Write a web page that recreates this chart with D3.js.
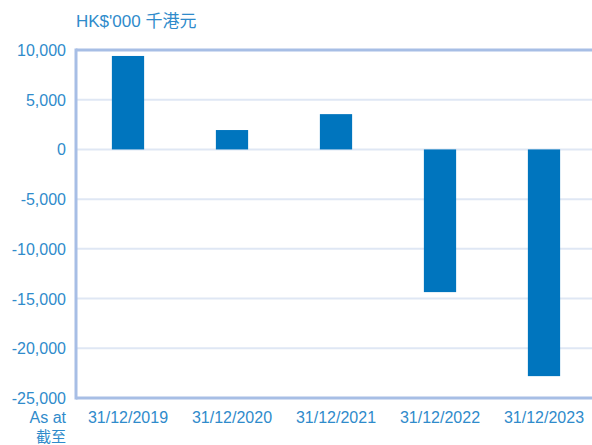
<!DOCTYPE html>
<html>
<head>
<meta charset="utf-8">
<script src="https://cdn.jsdelivr.net/npm/d3@7"></script>
<style>
  body { margin: 0; background: #fff; }
  text { font-family: "Liberation Sans", Arial, "Noto Sans CJK TC", sans-serif; fill: #2f8bcb; }
</style>
</head>
<body>
<svg id="chart" width="592" height="445"></svg>
<script>
var dates = ["31/12/2019", "31/12/2020", "31/12/2021", "31/12/2022", "31/12/2023"];
var values = [9400, 1950, 3550, -14350, -22800];
var yTicks = [10000, 5000, 0, -5000, -10000, -15000, -20000, -25000];

var svg = d3.select("#chart");
var plotLeft = 76, plotRight = 596, plotTop = 50, plotBottom = 398;

var x = d3.scaleBand().domain(dates).range([plotLeft, plotRight])
    .paddingInner(0.69).paddingOuter(0.345);
var y = d3.scaleLinear().domain([-25000, 10000]).range([plotBottom, plotTop]);

// gridlines
svg.append("g").selectAll("line")
    .data(yTicks.filter(function (d) { return d !== 10000 && d !== -25000; }))
    .enter()
    .append("line")
    .attr("x1", plotLeft).attr("x2", 592)
    .attr("y1", function (d) { return y(d); })
    .attr("y2", function (d) { return y(d); })
    .attr("stroke", "#dfe7f4")
    .attr("stroke-width", 2);

// frame lines (top, bottom, left)
[10000, -25000].forEach(function (v) {
    svg.append("line")
        .attr("x1", plotLeft).attr("x2", 592)
        .attr("y1", y(v)).attr("y2", y(v))
        .attr("stroke", "#a7bee5").attr("stroke-width", 3);
});
svg.append("line")
    .attr("x1", plotLeft).attr("x2", plotLeft)
    .attr("y1", y(10000) - 1.5).attr("y2", y(-25000) + 1.5)
    .attr("stroke", "#a7bee5").attr("stroke-width", 3);

// bars
svg.append("g").selectAll("rect")
    .data(values)
    .enter()
    .append("rect")
    .attr("x", function (d, i) { return x(dates[i]); })
    .attr("width", x.bandwidth())
    .attr("y", function (d) { return y(Math.max(0, d)); })
    .attr("height", function (d) { return Math.abs(y(d) - y(0)); })
    .attr("fill", "#0075be");

// y tick labels (plain hyphen for negatives, like the reference)
var fmt = d3.formatLocale({ decimal: ".", thousands: ",", grouping: [3], currency: ["", ""], minus: "-" }).format(",");
svg.append("g").selectAll("text")
    .data(yTicks)
    .enter()
    .append("text")
    .attr("x", 66)
    .attr("y", function (d) { return y(d) + 6; })
    .attr("text-anchor", "end")
    .style("font-size", "16px")
    .text(function (d) { return fmt(d); });

// x labels
svg.append("g").selectAll("text")
    .data(dates)
    .enter()
    .append("text")
    .attr("x", function (d) { return x(d) + x.bandwidth() / 2; })
    .attr("y", 423)
    .attr("text-anchor", "middle")
    .style("font-size", "16px")
    .text(function (d) { return d; });

svg.append("text").attr("x", 66).attr("y", 423).attr("text-anchor", "end")
    .style("font-size", "16px").text("As at");
svg.append("text").attr("x", 66).attr("y", 442).attr("text-anchor", "end")
    .style("font-size", "15px").text("截至");

// unit title
svg.append("text").attr("x", 76).attr("y", 27)
    .style("font-size", "17px").text("HK$'000 千港元");
</script>
</body>
</html>
